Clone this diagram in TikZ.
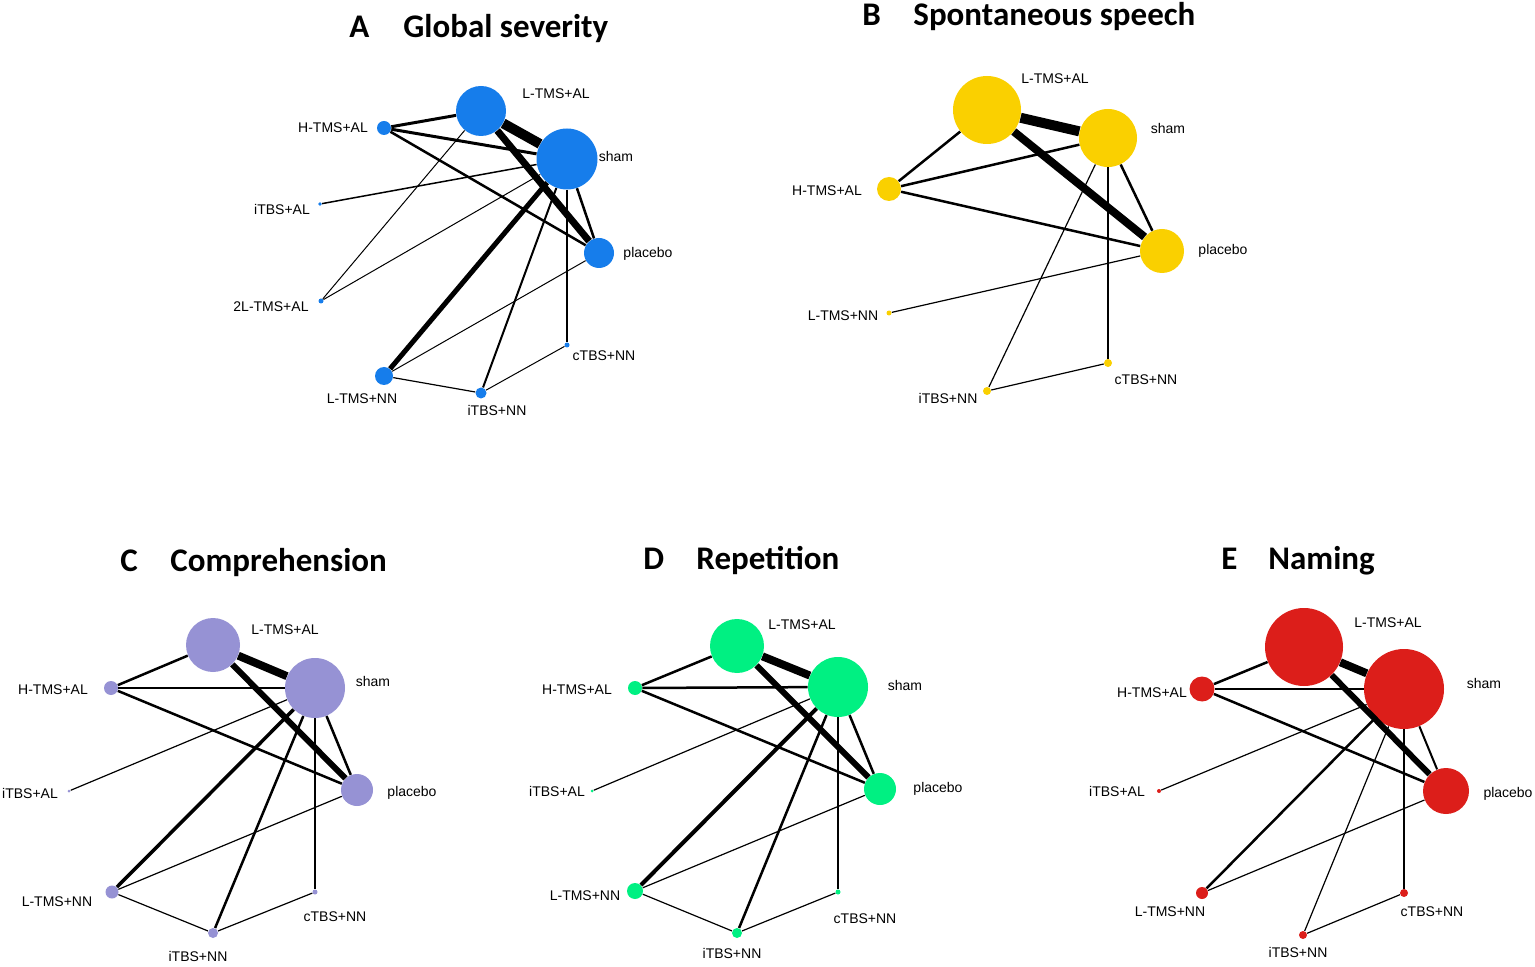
\documentclass[tikz,border=0pt]{standalone}
\usepackage{fontspec}
\setmainfont{Liberation Sans}
\newfontfamily\ttlfont{Carlito}
\definecolor{blueA}{RGB}{22,125,235}
\definecolor{yellowB}{RGB}{250,208,0}
\definecolor{purpleC}{RGB}{150,146,212}
\definecolor{greenD}{RGB}{0,240,130}
\definecolor{redE}{RGB}{220,30,26}
\begin{document}
\begin{tikzpicture}[x=0.5pt,y=-0.5pt,
ptA/.style={circle,inner sep=0pt,fill=blueA,minimum size=#1},
ptB/.style={circle,inner sep=0pt,fill=yellowB,minimum size=#1},
ptC/.style={circle,inner sep=0pt,fill=purpleC,minimum size=#1},
ptD/.style={circle,inner sep=0pt,fill=greenD,minimum size=#1},
ptE/.style={circle,inner sep=0pt,fill=redE,minimum size=#1},
lab/.style={font=\fontsize{7}{8}\selectfont,inner sep=0pt},
ttl/.style={font=\ttlfont\bfseries\fontsize{16.5}{18}\selectfont,anchor=base west,inner sep=0pt},
edge/.style={black,line width=#1}]

\useasboundingbox (0,0) rectangle (1535,967);

% A Global severity
\node[ttl] (letterA) at (349,38) {A};
\node[ttl] (titleA) at (403,38) {Global severity};
\node[ptA=25pt] (lalA) at (481,111) {};
\node[ptA=30.5pt] (shamA) at (567,159) {};
\node[ptA=7pt] (htmsA) at (384,128) {};
\node[ptA=1.8pt] (itbsalA) at (320,204) {};
\node[ptA=2.5pt] (twolA) at (321,301) {};
\node[ptA=15pt] (placeboA) at (599,253) {};
\node[ptA=2.5pt] (ctbsA) at (567,345) {};
\node[ptA=9pt] (lnnA) at (384,376) {};
\node[ptA=5.5pt] (itbsnnA) at (481,393) {};
\node[lab] (lalAt) at (556,94) {L-TMS+AL};
\node[lab] (shamAt) at (616,157) {sham};
\node[lab] (htmsAt) at (333,128) {H-TMS+AL};
\node[lab] (itbsalAt) at (282,209) {iTBS+AL};
\node[lab] (twolAt) at (271,307) {2L-TMS+AL};
\node[lab] (placeboAt) at (648,254) {placebo};
\node[lab] (ctbsAt) at (604,356) {cTBS+NN};
\node[lab] (lnnAt) at (362,399) {L-TMS+NN};
\node[lab] (itbsnnAt) at (497,410) {iTBS+NN};
\draw[edge=1.5pt] (htmsA) -- (lalA);
\draw[edge=1.5pt] (htmsA) -- (shamA);
\draw[edge=1.25pt] (htmsA) -- (placeboA);
\draw[edge=5pt] (lalA) -- (shamA);
\draw[edge=3.5pt] (lalA) -- (placeboA);
\draw[edge=0.5pt] (lalA) -- (twolA);
\draw[edge=0.75pt] (shamA) -- (itbsalA);
\draw[edge=0.5pt] (shamA) -- (twolA);
\draw[edge=1.25pt] (shamA) -- (placeboA);
\draw[edge=2.5pt] (shamA) -- (lnnA);
\draw[edge=1pt] (shamA) -- (itbsnnA);
\draw[edge=0.75pt] (shamA) -- (ctbsA);
\draw[edge=0.5pt] (placeboA) -- (lnnA);
\draw[edge=0.6pt] (lnnA) -- (itbsnnA);
\draw[edge=0.5pt] (itbsnnA) -- (ctbsA);

% B Spontaneous speech
\node[ttl] (letterB) at (862,26) {B};
\node[ttl] (titleB) at (913,26) {Spontaneous speech};
\node[ptB=34pt] (lalB) at (987,110) {};
\node[ptB=29pt] (shamB) at (1108,138) {};
\node[ptB=12pt] (htmsB) at (889,189) {};
\node[ptB=22pt] (placeboB) at (1162,251) {};
\node[ptB=2.5pt] (lnnB) at (889,313) {};
\node[ptB=4pt] (ctbsB) at (1108,363) {};
\node[ptB=4pt] (itbsnnB) at (987,391) {};
\node[lab] (lalBt) at (1055,79) {L-TMS+AL};
\node[lab] (shamBt) at (1168,129) {sham};
\node[lab] (htmsBt) at (827,191) {H-TMS+AL};
\node[lab] (placeboBt) at (1223,251) {placebo};
\node[lab] (lnnBt) at (843,316) {L-TMS+NN};
\node[lab] (ctbsBt) at (1146,380) {cTBS+NN};
\node[lab] (itbsnnBt) at (948,398) {iTBS+NN};
\draw[edge=5pt] (lalB) -- (shamB);
\draw[edge=4pt] (lalB) -- (placeboB);
\draw[edge=1.25pt] (lalB) -- (htmsB);
\draw[edge=1.25pt] (htmsB) -- (shamB);
\draw[edge=1.25pt] (htmsB) -- (placeboB);
\draw[edge=1.25pt] (shamB) -- (placeboB);
\draw[edge=0.6pt] (shamB) -- (itbsnnB);
\draw[edge=0.6pt] (shamB) -- (ctbsB);
\draw[edge=0.6pt] (placeboB) -- (lnnB);
\draw[edge=0.6pt] (itbsnnB) -- (ctbsB);

% C Comprehension
\node[ttl] (letterC) at (120,571) {C};
\node[ttl] (titleC) at (170,571) {Comprehension};
\node[ptC=27pt] (lalC) at (213,645) {};
\node[ptC=30pt] (shamC) at (315,688) {};
\node[ptC=7pt] (htmsC) at (111,688) {};
\node[ptC=1.5pt] (itbsalC) at (69,791) {};
\node[ptC=16pt] (placeboC) at (357,790) {};
\node[ptC=6.5pt] (lnnC) at (112,892) {};
\node[ptC=2.5pt] (ctbsC) at (315,892) {};
\node[ptC=5pt] (itbsnnC) at (213,933) {};
\node[lab] (lalCt) at (285,630) {L-TMS+AL};
\node[lab] (shamCt) at (373,681) {sham};
\node[lab] (htmsCt) at (53,690) {H-TMS+AL};
\node[lab] (itbsalCt) at (30,793) {iTBS+AL};
\node[lab] (placeboCt) at (412,793) {placebo};
\node[lab] (lnnCt) at (57,902) {L-TMS+NN};
\node[lab] (ctbsCt) at (335,917) {cTBS+NN};
\node[lab] (itbsnnCt) at (198,956) {iTBS+NN};
\draw[edge=4pt] (lalC) -- (shamC);
\draw[edge=3pt] (lalC) -- (placeboC);
\draw[edge=1.25pt] (lalC) -- (htmsC);
\draw[edge=1.25pt] (htmsC) -- (shamC);
\draw[edge=1.25pt] (htmsC) -- (placeboC);
\draw[edge=1.25pt] (shamC) -- (placeboC);
\draw[edge=0.6pt] (shamC) -- (itbsalC);
\draw[edge=1.75pt] (shamC) -- (lnnC);
\draw[edge=1.25pt] (shamC) -- (itbsnnC);
\draw[edge=0.75pt] (shamC) -- (ctbsC);
\draw[edge=0.6pt] (placeboC) -- (lnnC);
\draw[edge=0.6pt] (lnnC) -- (itbsnnC);
\draw[edge=0.6pt] (itbsnnC) -- (ctbsC);

% D Repetition
\node[ttl] (letterD) at (643,569) {D};
\node[ttl] (titleD) at (696,569) {Repetition};
\node[ptD=27pt] (lalD) at (737,646) {};
\node[ptD=30pt] (shamD) at (838,687) {};
\node[ptD=7pt] (htmsD) at (635,688) {};
\node[ptD=1.5pt] (itbsalD) at (592,791) {};
\node[ptD=16pt] (placeboD) at (880,789) {};
\node[ptD=8pt] (lnnD) at (635,891) {};
\node[ptD=2.5pt] (ctbsD) at (838,892) {};
\node[ptD=5pt] (itbsnnD) at (737,933) {};
\node[lab] (lalDt) at (802,625) {L-TMS+AL};
\node[lab] (shamDt) at (905,685) {sham};
\node[lab] (htmsDt) at (577,690) {H-TMS+AL};
\node[lab] (itbsalDt) at (557,791) {iTBS+AL};
\node[lab] (placeboDt) at (938,789) {placebo};
\node[lab] (lnnDt) at (585,896) {L-TMS+NN};
\node[lab] (ctbsDt) at (865,919) {cTBS+NN};
\node[lab] (itbsnnDt) at (732,953) {iTBS+NN};
\draw[edge=4pt] (lalD) -- (shamD);
\draw[edge=3pt] (lalD) -- (placeboD);
\draw[edge=1.25pt] (lalD) -- (htmsD);
\draw[edge=1.25pt] (htmsD) -- (shamD);
\draw[edge=1.25pt] (htmsD) -- (placeboD);
\draw[edge=1.25pt] (shamD) -- (placeboD);
\draw[edge=0.6pt] (shamD) -- (itbsalD);
\draw[edge=2pt] (shamD) -- (lnnD);
\draw[edge=1.25pt] (shamD) -- (itbsnnD);
\draw[edge=0.75pt] (shamD) -- (ctbsD);
\draw[edge=0.6pt] (placeboD) -- (lnnD);
\draw[edge=0.6pt] (lnnD) -- (itbsnnD);
\draw[edge=0.6pt] (itbsnnD) -- (ctbsD);

% E Naming
\node[ttl] (letterE) at (1221,569) {E};
\node[ttl] (titleE) at (1268,569) {Naming};
\node[ptE=39pt] (lalE) at (1304,647) {};
\node[ptE=40pt] (shamE) at (1404,689) {};
\node[ptE=12.5pt] (htmsE) at (1202,689) {};
\node[ptE=2pt] (itbsalE) at (1159,791) {};
\node[ptE=23pt] (placeboE) at (1446,791) {};
\node[ptE=6pt] (lnnE) at (1202,893) {};
\node[ptE=4pt] (ctbsE) at (1404,893) {};
\node[ptE=4pt] (itbsnnE) at (1303,935) {};
\node[lab] (lalEt) at (1388,623) {L-TMS+AL};
\node[lab] (shamEt) at (1484,683) {sham};
\node[lab] (htmsEt) at (1152,693) {H-TMS+AL};
\node[lab] (itbsalEt) at (1117,791) {iTBS+AL};
\node[lab] (placeboEt) at (1508,794) {placebo};
\node[lab] (lnnEt) at (1170,912) {L-TMS+NN};
\node[lab] (ctbsEt) at (1432,912) {cTBS+NN};
\node[lab] (itbsnnEt) at (1298,952) {iTBS+NN};
\draw[edge=4pt] (lalE) -- (shamE);
\draw[edge=3pt] (lalE) -- (placeboE);
\draw[edge=1.25pt] (lalE) -- (htmsE);
\draw[edge=1.25pt] (htmsE) -- (shamE);
\draw[edge=1.25pt] (htmsE) -- (placeboE);
\draw[edge=1pt] (shamE) -- (placeboE);
\draw[edge=0.6pt] (shamE) -- (itbsalE);
\draw[edge=1.25pt] (shamE) -- (lnnE);
\draw[edge=0.6pt] (shamE) -- (itbsnnE);
\draw[edge=0.75pt] (shamE) -- (ctbsE);
\draw[edge=0.6pt] (placeboE) -- (lnnE);
\draw[edge=0.6pt] (itbsnnE) -- (ctbsE);

\end{tikzpicture}
\end{document}
